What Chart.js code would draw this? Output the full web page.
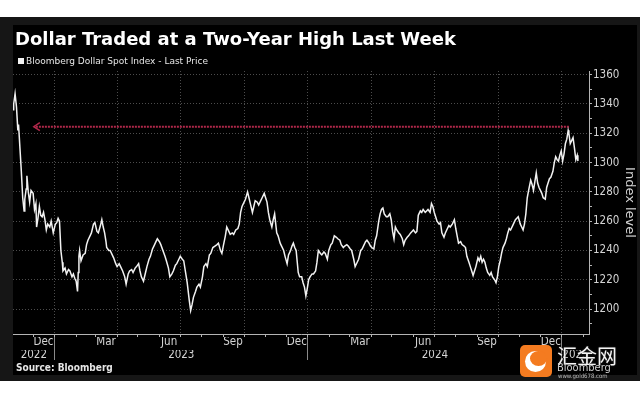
<!DOCTYPE html>
<html>
<head>
<meta charset="utf-8">
<script src="https://cdn.jsdelivr.net/npm/chart.js@4.4.1/dist/chart.umd.min.js"></script>
<style>
  html, body { margin: 0; padding: 0; width: 640px; height: 400px; overflow: hidden; background: #fff; }
  #frame { position: absolute; left: 0; top: 17px; width: 640px; height: 364px; background: #161616; }
  #panel { position: absolute; left: 13px; top: 25px; width: 624px; height: 350px; background: #000; }
  #c { position: absolute; left: 0; top: 0; }
  .txt { position: absolute; white-space: nowrap; font-family: "DejaVu Sans Condensed", "DejaVu Sans", sans-serif; }
  #title { left: 15px; top: 28px; font-family: "DejaVu Sans", sans-serif; font-size: 18px; font-weight: bold; color: #fff; }
  #legend { left: 26px; top: 56px; font-family: "DejaVu Sans", sans-serif; font-size: 9px; color: #e6e6e6; }
  #legbox { position: absolute; left: 18px; top: 58px; width: 6px; height: 6px; background: #f2f2f2; }
  #source { left: 16px; top: 362px; font-size: 10px; font-weight: bold; color: #e6e6e6; }
  #wm-box { position: absolute; left: 520px; top: 345px; width: 32px; height: 32px; border-radius: 5px; background: #f47b20; overflow: hidden; }
  #wm-ring { position: absolute; left: 5px; top: 6px; width: 21px; height: 21px; border-radius: 50%; background: #fff; }
  #wm-cut { position: absolute; left: 10px; top: 6px; width: 17px; height: 15px; border-radius: 50%; background: #f47b20; }
  #wm-cn { left: 557px; top: 341px; font-family: "Noto Sans CJK SC", sans-serif; font-size: 20px; color: #f4f4f4; text-shadow: 0 0 2px #333; }
  #wm-bb { left: 557px; top: 361px; font-size: 11px; color: #cfcfcf; }
  #wm-url { left: 558px; top: 372px; font-size: 6px; color: #bbb; }
</style>
</head>
<body>
<div id="frame"></div>
<div id="panel"><canvas id="c" width="624" height="350"></canvas></div>
<div id="title" class="txt">Dollar Traded at a Two-Year High Last Week</div>
<div id="legbox"></div>
<div id="legend" class="txt">Bloomberg Dollar Spot Index - Last Price</div>
<div id="source" class="txt">Source: Bloomberg</div>
<div id="wm-box"><div id="wm-ring"></div><div id="wm-cut"></div></div>
<div id="wm-cn" class="txt">汇金网</div>
<div id="wm-bb" class="txt">Bloomberg</div>
<div id="wm-url" class="txt">www.gold678.com</div>
<script>
// Bloomberg Dollar Spot Index
var dates = [
  '2022-11-02','2022-11-03','2022-11-05','2022-11-07','2022-11-09','2022-11-10','2022-11-12','2022-11-13','2022-11-14','2022-11-16',
  '2022-11-18','2022-11-19','2022-11-21','2022-11-22','2022-11-24','2022-11-26','2022-11-28','2022-12-01','2022-12-03','2022-12-05',
  '2022-12-06','2022-12-08','2022-12-10','2022-12-12','2022-12-14','2022-12-16','2022-12-18','2022-12-20','2022-12-22','2022-12-25',
  '2022-12-27','2022-12-30','2023-01-02','2023-01-04','2023-01-06','2023-01-08','2023-01-10','2023-01-12','2023-01-13','2023-01-16',
  '2023-01-18','2023-01-21','2023-01-23','2023-01-26','2023-01-28','2023-01-30','2023-02-01','2023-02-03','2023-02-04','2023-02-05',
  '2023-02-06','2023-02-08','2023-02-11','2023-02-14','2023-02-16','2023-02-18','2023-02-21','2023-02-23','2023-02-26','2023-02-28',
  '2023-03-03','2023-03-05','2023-03-08','2023-03-10','2023-03-12','2023-03-14','2023-03-16','2023-03-17','2023-03-20','2023-03-22',
  '2023-03-25','2023-03-27','2023-03-30','2023-04-01','2023-04-04','2023-04-06','2023-04-09','2023-04-12','2023-04-14','2023-04-17',
  '2023-04-19','2023-04-22','2023-04-24','2023-04-27','2023-04-29','2023-05-02','2023-05-04','2023-05-06','2023-05-09','2023-05-12',
  '2023-05-14','2023-05-17','2023-05-19','2023-05-22','2023-05-24','2023-05-27','2023-05-29','2023-06-01','2023-06-03','2023-06-06',
  '2023-06-09','2023-06-11','2023-06-14','2023-06-16','2023-06-19','2023-06-21','2023-06-24','2023-06-26','2023-06-29','2023-07-01',
  '2023-07-04','2023-07-06','2023-07-09','2023-07-11','2023-07-14','2023-07-16','2023-07-18','2023-07-20','2023-07-23','2023-07-25',
  '2023-07-28','2023-07-30','2023-08-02','2023-08-04','2023-08-07','2023-08-09','2023-08-12','2023-08-14','2023-08-17','2023-08-20',
  '2023-08-23','2023-08-25','2023-08-28','2023-08-30','2023-09-01','2023-09-04','2023-09-06','2023-09-09','2023-09-11','2023-09-14',
  '2023-09-16','2023-09-19','2023-09-22','2023-09-24','2023-09-26','2023-09-28','2023-10-01','2023-10-03','2023-10-06','2023-10-08',
  '2023-10-10','2023-10-13','2023-10-15','2023-10-17','2023-10-20','2023-10-22','2023-10-25','2023-10-27','2023-10-30','2023-11-01',
  '2023-11-03','2023-11-05','2023-11-07','2023-11-10','2023-11-12','2023-11-14','2023-11-17','2023-11-19','2023-11-22','2023-11-24',
  '2023-11-27','2023-11-29','2023-12-02','2023-12-04','2023-12-07','2023-12-09','2023-12-11','2023-12-13','2023-12-15','2023-12-18',
  '2023-12-20','2023-12-23','2023-12-25','2023-12-27','2023-12-29','2023-12-31','2024-01-02','2024-01-04','2024-01-07','2024-01-09',
  '2024-01-12','2024-01-14','2024-01-16','2024-01-19','2024-01-21','2024-01-24','2024-01-26','2024-01-29','2024-01-31','2024-02-03',
  '2024-02-05','2024-02-08','2024-02-11','2024-02-13','2024-02-16','2024-02-18','2024-02-21','2024-02-23','2024-02-26','2024-02-28',
  '2024-03-02','2024-03-04','2024-03-07','2024-03-09','2024-03-12','2024-03-14','2024-03-17','2024-03-19','2024-03-22','2024-03-24',
  '2024-03-26','2024-03-29','2024-03-31','2024-04-02','2024-04-05','2024-04-07','2024-04-09','2024-04-12','2024-04-14','2024-04-16',
  '2024-04-18','2024-04-20','2024-04-23','2024-04-25','2024-04-28','2024-04-30','2024-05-02','2024-05-04','2024-05-06','2024-05-08',
  '2024-05-11','2024-05-13','2024-05-16','2024-05-18','2024-05-20','2024-05-23','2024-05-25','2024-05-28','2024-05-30','2024-06-01',
  '2024-06-04','2024-06-06','2024-06-08','2024-06-11','2024-06-13','2024-06-15','2024-06-18','2024-06-20','2024-06-22','2024-06-25',
  '2024-06-27','2024-06-29','2024-07-01','2024-07-03','2024-07-05','2024-07-08','2024-07-10','2024-07-12','2024-07-15','2024-07-17',
  '2024-07-20','2024-07-22','2024-07-24','2024-07-27','2024-07-30','2024-08-01','2024-08-03','2024-08-05','2024-08-08','2024-08-10',
  '2024-08-13','2024-08-15','2024-08-17','2024-08-20','2024-08-22','2024-08-24','2024-08-26','2024-08-28','2024-08-30','2024-09-02',
  '2024-09-04','2024-09-06','2024-09-08','2024-09-10','2024-09-12','2024-09-14','2024-09-16','2024-09-19','2024-09-21','2024-09-23',
  '2024-09-26','2024-09-28','2024-09-30','2024-10-02','2024-10-04','2024-10-06','2024-10-08','2024-10-11','2024-10-13','2024-10-15',
  '2024-10-17','2024-10-19','2024-10-22','2024-10-24','2024-10-26','2024-10-28','2024-10-30','2024-11-02','2024-11-04','2024-11-06',
  '2024-11-08','2024-11-10','2024-11-12','2024-11-14','2024-11-17','2024-11-19','2024-11-21','2024-11-23','2024-11-25','2024-11-27',
  '2024-11-29','2024-12-01','2024-12-03','2024-12-05','2024-12-08','2024-12-10','2024-12-12','2024-12-14','2024-12-16','2024-12-19',
  '2024-12-21','2024-12-23','2024-12-25','2024-12-27','2024-12-29','2024-12-31','2025-01-02','2025-01-04','2025-01-06','2025-01-08',
  '2025-01-10','2025-01-11','2025-01-13','2025-01-15','2025-01-17','2025-01-19','2025-01-21','2025-01-23','2025-01-24'
];
var values = [
  1336,1340,1347,1338,1322,1326,1310,1302,1294,1276,
  1267,1275,1282,1291,1280,1273,1281,1279,1268,1272,
  1256,1262,1270,1264,1263,1266,1261,1254,1258,1256,
  1260,1252,1258,1259,1262,1260,1240,1232,1226,1228,
  1224,1227,1226,1222,1224,1221,1219,1212,1225,1236,
  1240,1233,1237,1238,1244,1247,1250,1252,1258,1259,
  1253,1252,1257,1261,1256,1252,1246,1242,1240,1240,
  1237,1235,1231,1229,1231,1229,1226,1222,1217,1224,
  1226,1227,1225,1228,1229,1231,1226,1222,1219,1225,
  1229,1234,1236,1241,1243,1246,1248,1246,1244,1240,
  1236,1233,1228,1222,1224,1226,1230,1231,1234,1236,
  1234,1233,1224,1218,1206,1199,1203,1208,1212,1215,
  1217,1215,1222,1229,1231,1229,1237,1238,1242,1243,
  1244,1245,1240,1238,1243,1250,1256,1253,1251,1252,
  1251,1254,1255,1258,1266,1270,1273,1275,1280,1276,
  1272,1266,1270,1274,1273,1271,1274,1276,1279,1276,
  1273,1266,1261,1256,1261,1265,1252,1250,1245,1243,
  1240,1236,1231,1237,1240,1243,1245,1242,1240,1225,
  1222,1222,1218,1215,1209,1214,1220,1222,1224,1224,
  1226,1232,1240,1238,1237,1239,1238,1234,1240,1244,
  1245,1250,1249,1248,1247,1244,1242,1243,1244,1243,
  1241,1240,1234,1229,1232,1234,1240,1241,1244,1246,
  1247,1245,1243,1242,1241,1247,1250,1260,1265,1268,
  1269,1265,1263,1263,1265,1261,1253,1248,1256,1254,
  1252,1251,1248,1244,1247,1249,1250,1252,1253,1254,
  1252,1253,1264,1267,1266,1268,1266,1267,1268,1266,
  1272,1270,1266,1263,1260,1258,1259,1252,1249,1252,
  1255,1257,1256,1258,1261,1255,1250,1245,1246,1244,
  1243,1242,1236,1232,1229,1226,1223,1226,1229,1235,
  1233,1236,1232,1234,1232,1228,1225,1223,1225,1222,
  1220,1218,1222,1229,1233,1238,1242,1245,1248,1252,
  1255,1254,1257,1259,1261,1262,1263,1258,1256,1254,
  1258,1265,1276,1281,1288,1285,1281,1287,1293,1286,
  1283,1281,1279,1276,1275,1283,1286,1289,1290,1294,
  1300,1304,1302,1301,1305,1308,1301,1306,1313,1316,
  1322,1320,1313,1315,1317,1310,1302,1305,1301
];

var yTicks = [1200, 1220, 1240, 1260, 1280, 1300, 1320, 1340, 1360];
var monthLabels = ['Dec', 'Mar', 'Jun', 'Sep', 'Dec', 'Mar', 'Jun', 'Sep', 'Dec'];
var monthLabelDates = ['2022-12-16', '2023-03-16', '2023-06-15', '2023-09-15', '2023-12-16',
                       '2024-03-16', '2024-06-15', '2024-09-15', '2024-12-16'];
var yearLabels = ['2022', '2023', '2024', '2025'];
var axisStart = '2022-11-02';
var axisEnd = '2025-02-09';
var yMin = 1183;
var yMax = 1362.5;
// red "two-year high" marker
var arrowLevel = 1324.5;
var arrowFrom = '2025-01-11';
var arrowTo = '2022-12-02';

var T0 = Date.UTC(2023, 0, 1);
function day(s) { return (Date.parse(s) - T0) / 864e5; }
var xMin = day(axisStart), xMax = day(axisEnd);

// month starts for tick marks, quarter starts get grid lines
var monthStarts = [], quarterSet = new Set(), yearStarts = [];
for (var yr = 2022; yr <= 2025; yr++) {
  for (var m = 0; m < 12; m++) {
    var d = (Date.UTC(yr, m, 1) - T0) / 864e5;
    if (d <= xMin || d >= xMax) continue;
    monthStarts.push(d);
    if (m % 3 === 0) quarterSet.add(d);
    if (m === 0) yearStarts.push(d);
  }
}
var bounds = [xMin].concat(yearStarts, [xMax]);
var labelAt = new Map();
monthLabelDates.forEach(function (s, i) { labelAt.set(day(s), monthLabels[i]); });
var yearAt = new Map();
yearLabels.forEach(function (s, i) { yearAt.set((bounds[i] + bounds[i + 1]) / 2, s); });

var points = dates.map(function (s, i) { return { x: day(s), y: values[i] }; });

var FAMILY = '"DejaVu Sans Condensed", "DejaVu Sans", sans-serif';
var tickFont = { family: FAMILY, size: 11.5 };
var NONE = 'rgba(0,0,0,0)';

var arrowPlugin = {
  id: 'arrow',
  beforeDatasetsDraw: function (chart) {
    var ctx = chart.ctx, x = chart.scales.x, y = chart.scales.y;
    var x1 = x.getPixelForValue(day(arrowFrom));
    var x2 = x.getPixelForValue(day(arrowTo));
    var yy = y.getPixelForValue(arrowLevel);
    ctx.save();
    ctx.strokeStyle = '#b0284a';
    ctx.lineWidth = 2;
    ctx.setLineDash([2, 1]);
    ctx.beginPath(); ctx.moveTo(x1, yy); ctx.lineTo(x2, yy); ctx.stroke();
    ctx.setLineDash([]);
    ctx.lineWidth = 1.5;
    ctx.beginPath(); ctx.moveTo(x2 + 6, yy - 4); ctx.lineTo(x2, yy); ctx.lineTo(x2 + 6, yy + 4); ctx.stroke();
    ctx.restore();
  }
};

new Chart(document.getElementById('c'), {
  type: 'line',
  data: {
    datasets: [{
      data: points,
      borderColor: '#f2f2f2',
      borderWidth: 1.5,
      pointRadius: 0,
      tension: 0,
      fill: false
    }]
  },
  options: {
    responsive: false,
    animation: false,
    devicePixelRatio: 1,
    layout: { padding: { top: 46, left: 0, right: 0, bottom: 0 } },
    plugins: { legend: { display: false }, tooltip: { enabled: false } },
    scales: {
      x: {
        type: 'linear', position: 'bottom', weight: 0, min: xMin, max: xMax,
        afterBuildTicks: function (s) { s.ticks = monthStarts.map(function (v) { return { value: v }; }); },
        afterFit: function (s) { s.height = 3; },
        grid: {
          color: function (c) { return c.tick && quarterSet.has(c.tick.value) ? '#4c4c4c' : NONE; },
          borderDash: [1, 2],
          drawTicks: true, tickLength: 3, tickColor: '#b4b4b4', tickBorderDash: []
        },
        border: { display: true, color: '#b4b4b4', width: 1, dash: [1, 2] },
        ticks: { display: false, autoSkip: false }
      },
      x2: {
        type: 'linear', position: 'bottom', weight: 1, min: xMin, max: xMax,
        afterBuildTicks: function (s) {
          var t = Array.from(labelAt.keys()).concat(yearStarts).sort(function (a, b) { return a - b; });
          s.ticks = t.map(function (v) { return { value: v }; });
        },
        afterFit: function (s) { s.height = 13; },
        grid: {
          drawOnChartArea: false, drawTicks: true, tickLength: 23,
          tickColor: function (c) { return c.tick && yearStarts.indexOf(c.tick.value) >= 0 ? '#8a8a8a' : NONE; }
        },
        border: { display: false },
        ticks: {
          autoSkip: false, maxRotation: 0, padding: -25, color: '#d4d4d4', font: tickFont,
          callback: function (v) { return labelAt.get(v) || ''; }
        }
      },
      x3: {
        type: 'linear', position: 'bottom', weight: 2, min: xMin, max: xMax,
        afterBuildTicks: function (s) { s.ticks = Array.from(yearAt.keys()).map(function (v) { return { value: v }; }); },
        afterFit: function (s) { s.height = 25; },
        grid: { display: false },
        border: { display: false },
        ticks: {
          autoSkip: false, maxRotation: 0, padding: -10, color: '#d4d4d4', font: tickFont,
          callback: function (v) { return yearAt.get(v) || ''; }
        }
      },
      y: {
        type: 'linear', position: 'right', min: yMin, max: yMax,
        afterBuildTicks: function (s) {
          var t = [];
          yTicks.forEach(function (v) { t.push(v - 10); t.push(v); });
          s.ticks = t.map(function (v) { return { value: v }; });
        },
        afterFit: function (s) { s.width = 48; },
        grid: {
          color: function (c) { return c.tick && yTicks.indexOf(c.tick.value) >= 0 ? '#4c4c4c' : NONE; },
          borderDash: [1, 2],
          drawTicks: true, tickLength: 3, tickColor: '#b4b4b4', tickBorderDash: []
        },
        border: { display: true, color: '#b4b4b4', width: 1, dash: [1, 2] },
        ticks: {
          autoSkip: false, padding: 1, color: '#d4d4d4', font: tickFont,
          callback: function (v) { return yTicks.indexOf(v) >= 0 ? String(v) : ''; }
        },
        title: {
          display: true, text: 'Index level', color: '#d4d4d4',
          font: { family: '"DejaVu Sans", sans-serif', size: 13 }, padding: 0
        }
      }
    }
  },
  plugins: [arrowPlugin]
});
</script>
</body>
</html>
